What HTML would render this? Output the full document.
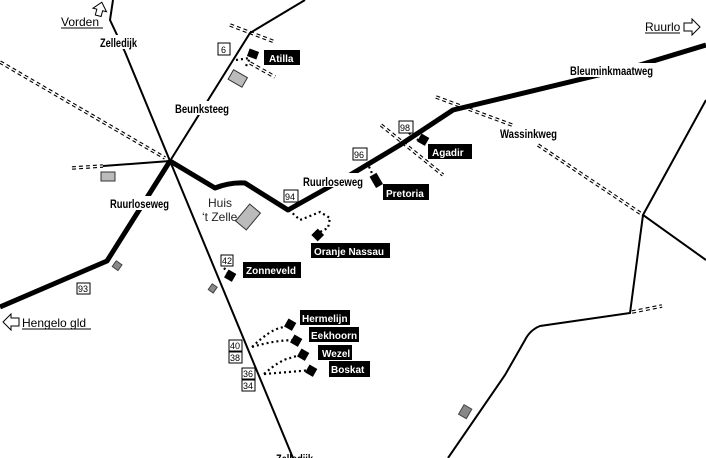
<!DOCTYPE html>
<html><head><meta charset="utf-8"><style>
html,body{margin:0;padding:0;background:#fff;}
svg{display:block;font-family:"Liberation Sans",sans-serif;}
.l{font-size:12px;font-weight:bold;fill:#000;}
.b{font-size:10px;font-weight:bold;fill:#fff;}
.n{font-size:9px;fill:#000;}
</style></head><body>
<svg width="706" height="458" viewBox="0 0 706 458">
<g fill="none" stroke-linecap="butt">
<g stroke="#000" stroke-width="3.5" stroke-dasharray="4 3">
<path d="M0 62 L165 158"/>
<path d="M72 168 L103 166"/>
<path d="M230 25 L275 42"/>
<path d="M250 63 L275 77"/>
<path d="M436 97 L512 125"/>
<path d="M538 145 L643 215"/>
<path d="M381 125 L443 175"/>
<path d="M632 312 L662 306"/>
</g>
<g stroke="#fff" stroke-width="1.3">
<path d="M0 62 L165 158"/>
<path d="M72 168 L103 166"/>
<path d="M230 25 L275 42"/>
<path d="M250 63 L275 77"/>
<path d="M436 97 L512 125"/>
<path d="M538 145 L643 215"/>
<path d="M381 125 L443 175"/>
<path d="M632 312 L662 306"/>
</g>
<g stroke="#000" stroke-width="2">
<path d="M113 0 L110 20 L125 52 L170 161 L293 458"/>
<path d="M170 161 L250 33 L305 0"/>
<path d="M103 166 L170 161"/>
<path d="M706 100 L643 215 L706 260"/>
<path d="M643 215 L630 313 L540 326 Q530 330 525 340 L505 375 L448 458"/>
</g>
<g stroke="#000" stroke-width="5" stroke-linejoin="round">
<path d="M0 307 L107 261 L170 161"/>
<path d="M170 161 L215 188 Q230 182 245 183 L288 210 L345 178 L400 145 L453 110 L640 65 L706 45"/>
</g>
<g stroke="#000" stroke-width="2.2" stroke-dasharray="2 3">
<path d="M236 60 L250 58"/>
<path d="M246 66 L250 58"/>
<path d="M289 210 L300 220 L320 212 L330 218 L328 228 L320 232"/>
<path d="M367 162 L374 178"/>
<path d="M405 130 L418 140"/>
<path d="M224 268 L230 275"/>
<path d="M252 347 Q270 330 280 328 L290 325"/>
<path d="M252 347 Q275 340 296 340"/>
<path d="M264 374 Q280 360 290 358 L303 354"/>
<path d="M264 374 Q290 372 311 370"/>
</g>
</g>
<g fill="#bbb" stroke="#333" stroke-width="1">
<rect x="101" y="172" width="14" height="9"/>
<rect x="230" y="73" width="16" height="11" transform="rotate(30 238 78)"/>
<rect x="241" y="206" width="14" height="22" transform="rotate(40 248 217)"/>
</g>
<g fill="#888" stroke="#444" stroke-width="1">
<rect x="114" y="262" width="7" height="7" transform="rotate(35 117 265)"/>
<rect x="210" y="285" width="6" height="7" transform="rotate(35 213 288)"/>
<rect x="461" y="406" width="9" height="11" transform="rotate(30 465 411)"/>
</g>
<g fill="#000">
<rect x="248" y="50" width="10" height="8" transform="rotate(20 253 54)"/>
<rect x="419" y="135" width="9" height="9" transform="rotate(30 423 139)"/>
<rect x="372" y="174" width="8" height="13" transform="rotate(-30 376 180)"/>
<rect x="313" y="230" width="9" height="9" transform="rotate(45 317 235)"/>
<rect x="226" y="271" width="9" height="9" transform="rotate(30 230 275)"/>
<rect x="286" y="320" width="9" height="9" transform="rotate(30 290 324)"/>
<rect x="292" y="336" width="9" height="9" transform="rotate(30 296 340)"/>
<rect x="299" y="350" width="9" height="9" transform="rotate(30 303 354)"/>
<rect x="307" y="366" width="9" height="9" transform="rotate(30 311 370)"/>
</g>
<g fill="#000">
<rect x="264" y="50" width="36" height="15"/>
<rect x="428" y="144" width="44" height="15"/>
<rect x="383" y="184" width="46" height="16"/>
<rect x="311" y="243" width="79" height="15"/>
<rect x="243" y="262" width="58" height="16"/>
<rect x="300" y="310" width="50" height="15"/>
<rect x="309" y="327" width="50" height="15"/>
<rect x="318" y="345" width="34" height="15"/>
<rect x="329" y="361" width="41" height="16"/>
</g>
<g class="b">
<text x="269" y="62">Atilla</text>
<text x="432" y="156">Agadir</text>
<text x="386" y="197">Pretoria</text>
<text x="314" y="255">Oranje Nassau</text>
<text x="246" y="274">Zonneveld</text>
<text x="302" y="322">Hermelijn</text>
<text x="311" y="339">Eekhoorn</text>
<text x="322" y="357">Wezel</text>
<text x="331" y="373">Boskat</text>
</g>
<g fill="#fff">
<rect x="99" y="35" width="40" height="14"/>
<rect x="174" y="101" width="57" height="14"/>
<rect x="109" y="196" width="62" height="14"/>
<rect x="302" y="173" width="62" height="14"/>
<rect x="568" y="63" width="87" height="14"/>
</g>
<g class="l">
<text x="100" y="47" textLength="37" lengthAdjust="spacingAndGlyphs">Zelledijk</text>
<text x="175" y="113" textLength="54" lengthAdjust="spacingAndGlyphs">Beunksteeg</text>
<text x="110" y="208" textLength="59" lengthAdjust="spacingAndGlyphs">Ruurloseweg</text>
<text x="303" y="186" textLength="60" lengthAdjust="spacingAndGlyphs">Ruurloseweg</text>
<text x="570" y="75" textLength="83" lengthAdjust="spacingAndGlyphs">Bleuminkmaatweg</text>
<text x="500" y="138" textLength="57" lengthAdjust="spacingAndGlyphs">Wassinkweg</text>
</g>
<text x="208" y="207" font-size="12" fill="#222">Huis</text>
<text x="202" y="221" font-size="12" fill="#222">‘t Zelle</text>
<g fill="#fff" stroke="#000" stroke-width="1">
<rect x="218" y="43" width="12" height="12"/>
<rect x="399" y="121" width="14" height="12"/>
<rect x="353" y="148" width="14" height="12"/>
<rect x="284" y="190" width="14" height="12"/>
<rect x="221" y="255" width="12" height="11"/>
<rect x="229" y="340" width="13" height="11"/>
<rect x="229" y="352" width="13" height="11"/>
<rect x="242" y="368" width="13" height="11"/>
<rect x="242" y="380" width="13" height="11"/>
<rect x="77" y="283" width="13" height="11"/>
</g>
<g class="n">
<text x="221" y="53">6</text>
<text x="400" y="131">98</text>
<text x="354" y="158">96</text>
<text x="285" y="200">94</text>
<text x="222" y="264">42</text>
<text x="230" y="349">40</text>
<text x="230" y="361">38</text>
<text x="243" y="377">36</text>
<text x="243" y="389">34</text>
<text x="78" y="292">93</text>
</g>
<g font-size="12" fill="#000">
<text x="61" y="26">Vorden</text>
<text x="645" y="31">Ruurlo</text>
<text x="22" y="327">Hengelo gld</text>
</g>
<g stroke="#000" stroke-width="1">
<line x1="61" y1="28" x2="103" y2="28"/>
<line x1="645" y1="33" x2="680" y2="33"/>
<line x1="22" y1="329" x2="91" y2="329"/>
</g>
<g fill="#fff" stroke="#000" stroke-width="1">
<path d="M97 16 L97 10 L93 10 L100 2 L107 10 L103 10 L103 16 Z" transform="rotate(15 100 9)"/>
<path d="M684 23 L692 23 L692 19 L700 27 L692 35 L692 31 L684 31 Z"/>
<path d="M19 318 L11 318 L11 314 L3 322 L11 330 L11 326 L19 326 Z"/>
</g>
<text x="276" y="463" class="l" textLength="37" lengthAdjust="spacingAndGlyphs">Zelledijk</text>
</svg>
</body></html>
